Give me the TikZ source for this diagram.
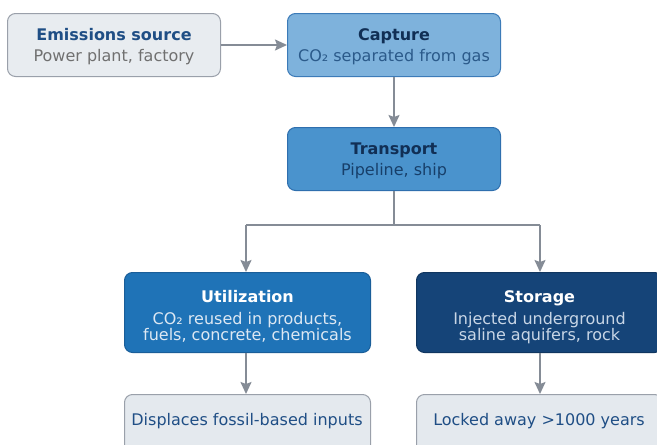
\documentclass[tikz,border=0pt]{standalone}
\usepackage{fontspec}
\setmainfont{DejaVu Sans}
\usetikzlibrary{arrows.meta}
\definecolor{grayfill}{HTML}{E8ECF0}
\definecolor{grayedge}{HTML}{9AA0AA}
\definecolor{navytxt}{HTML}{1F4E85}
\definecolor{subgray}{HTML}{707070}
\definecolor{capfill}{HTML}{7EB2DC}
\definecolor{capedge}{HTML}{3C7BB8}
\definecolor{darktitle}{HTML}{112F55}
\definecolor{capsub}{HTML}{2B5A8A}
\definecolor{trfill}{HTML}{4A93CD}
\definecolor{tredge}{HTML}{2F6FAE}
\definecolor{trsub}{HTML}{173F6A}
\definecolor{utfill}{HTML}{1F73B7}
\definecolor{utedge}{HTML}{1A5E99}
\definecolor{utsub}{HTML}{DDE8F3}
\definecolor{stfill}{HTML}{154478}
\definecolor{stedge}{HTML}{103660}
\definecolor{stsub}{HTML}{C8D6E6}
\definecolor{botfill}{HTML}{E4E9EE}
\definecolor{arrowc}{HTML}{858C96}
\newcommand{\ttlf}{\fontsize{16}{16}\selectfont\bfseries}
\tikzset{
  box/.style={draw, rounded corners=8pt, line width=1pt, align=center, inner sep=0pt, anchor=north west, text depth=0pt, font=\fontsize{16}{16}\selectfont},
  small/.style={box, minimum width=213pt, minimum height=63pt},
  wide/.style={box, minimum width=246pt, minimum height=80pt},
  conn/.style={draw=arrowc, line width=1.8pt, -{Stealth[length=12pt,width=11pt,inset=2pt]}},
  line/.style={draw=arrowc, line width=1.8pt}
}
\begin{document}
\begin{tikzpicture}[x=1pt,y=-1pt]
\useasboundingbox (0,0) rectangle (657,445);
\clip (0,0) rectangle (657,445);
\node[small, fill=grayfill, draw=grayedge] (src) at (7,13) {{\ttlf\color{navytxt}Emissions source}\\[5pt]\color{subgray}Power plant, factory};
\node[small, fill=capfill, draw=capedge] (cap) at (287,13) {{\ttlf\color{darktitle}Capture}\\[5pt]\color{capsub}CO₂ separated from gas};
\node[small, fill=trfill, draw=tredge] (tr) at (287,127) {{\ttlf\color{darktitle}Transport}\\[5pt]\color{trsub}Pipeline, ship};
\node[wide, fill=utfill, draw=utedge] (ut) at (124,272) {{\rule{0pt}{17pt}\ttlf\color{white}Utilization}\\[6pt]\color{utsub}CO₂ reused in products,\\\color{utsub}fuels, concrete, chemicals};
\node[wide, fill=stfill, draw=stedge] (st) at (416,272) {{\rule{0pt}{17pt}\ttlf\color{white}Storage}\\[6pt]\color{stsub}Injected underground\\\color{stsub}saline aquifers, rock};
\node[box, minimum width=246pt, minimum height=63pt, fill=botfill, draw=grayedge] (disp) at (124,394) {};
\node[navytxt, font=\fontsize{16}{17}\selectfont] (dispt) at (247,421) {Displaces fossil-based inputs};
\node[box, minimum width=246pt, minimum height=63pt, fill=botfill, draw=grayedge] (lock) at (416,394) {};
\node[navytxt, font=\fontsize{16}{17}\selectfont] (lockt) at (539,421) {Locked away >1000 years};
\coordinate (split) at (394,225);
\coordinate (splitL) at (246,225);
\coordinate (splitR) at (540,225);
\draw[conn] (src.east) -- (cap.west);
\draw[conn] (cap.south) -- (tr.north);
\draw[line] (tr.south) -- (split);
\draw[line] (splitL) -- (splitR);
\draw[conn] (splitL) -- (ut.north -| splitL);
\draw[conn] (splitR) -- (st.north -| splitR);
\draw[conn] (ut.south -| splitL) -- (disp.north -| splitL);
\draw[conn] (st.south -| splitR) -- (lock.north -| splitR);
\end{tikzpicture}
\end{document}
